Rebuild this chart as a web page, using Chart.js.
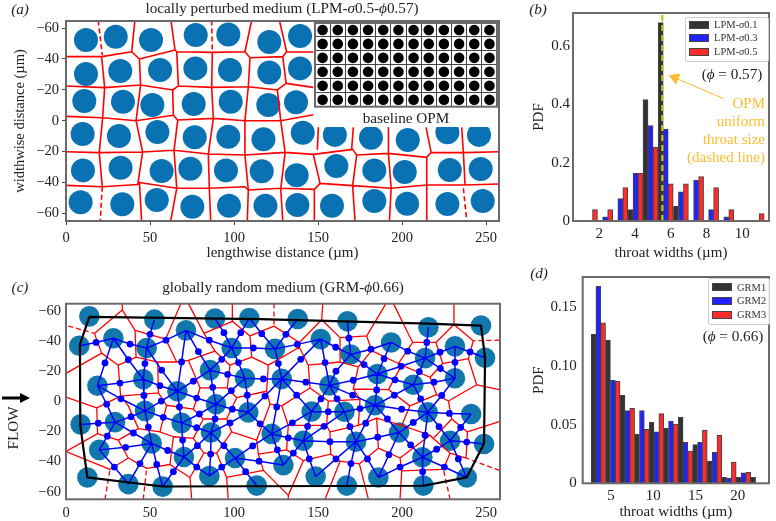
<!DOCTYPE html>
<html><head><meta charset="utf-8">
<script src="https://cdn.jsdelivr.net/npm/chart.js@4"></script>
<style>
html,body{margin:0;padding:0;background:#fff;}
#page{position:relative;width:776px;height:521px;overflow:hidden;font-family:"Liberation Serif",serif;color:#222;}
canvas{position:absolute;}
.t{position:absolute;white-space:nowrap;transform:translate(-50%,-50%);font-size:15.2px;line-height:1;}
.r{position:absolute;white-space:nowrap;transform:translate(-100%,-50%);font-size:15px;line-height:1;color:#fdbb2f;}
.lg{position:absolute;background:rgba(255,255,255,.9);border:1px solid #ccc;border-radius:2px;}
.sw{position:absolute;height:6px;border:1px solid #444;}
.lt{position:absolute;white-space:nowrap;transform:translateY(-50%);font-size:10.5px;line-height:1;color:#333;}
</style></head><body>
<div id="page">
<canvas id="ca" width="510" height="262" style="left:0;top:0"></canvas>
<canvas id="cin" width="184" height="105" style="left:314px;top:22px;background:#fff"></canvas>
<canvas id="cb" width="256" height="262" style="left:520px;top:0"></canvas>
<canvas id="cc" width="510" height="231" style="left:0;top:290px"></canvas>
<canvas id="cd" width="256" height="259" style="left:520px;top:262px"></canvas>

<div class="t" style="left:20px;top:9px;"><i>(a)</i></div>
<div class="t" style="left:282px;top:8px;">locally perturbed medium (LPM-<i>σ</i>0.5-<i>ϕ</i>0.57)</div>
<div class="t" style="left:406px;top:118px;">baseline OPM</div>
<div class="t" style="left:538px;top:9px;"><i>(b)</i></div>
<div class="t" style="left:732px;top:74px;">(<i>ϕ</i> = 0.57)</div>
<div class="r" style="left:765px;top:103px;">OPM</div>
<div class="r" style="left:765px;top:121px;">uniform</div>
<div class="r" style="left:765px;top:139px;">throat size</div>
<div class="r" style="left:765px;top:157px;">(dashed line)</div>
<div class="t" style="left:20px;top:287px;"><i>(c)</i></div>
<div class="t" style="left:283px;top:287px;">globally random medium (GRM-<i>ϕ</i>0.66)</div>
<div class="t" style="left:13px;top:428px;transform:translate(-50%,-50%) rotate(-90deg);">FLOW</div>
<svg style="position:absolute;left:0;top:388px" width="34" height="20"><polygon points="2,8.5 20,8.5 20,5 30,10 20,15 20,11.5 2,11.5" fill="#000"/></svg>
<div class="t" style="left:539px;top:273px;"><i>(d)</i></div>
<div class="t" style="left:733px;top:336px;">(<i>ϕ</i> = 0.66)</div>

<div class="lg" style="left:685px;top:17px;width:82px;height:43px;"></div>
<div class="sw" style="left:689px;top:21px;width:18px;background:#333"></div>
<div class="sw" style="left:689px;top:34px;width:18px;background:#2222ff"></div>
<div class="sw" style="left:689px;top:48px;width:18px;background:#ff2a2a"></div>
<div class="lt" style="left:714px;top:25px;">LPM-<i>σ</i>0.1</div>
<div class="lt" style="left:714px;top:38px;">LPM-<i>σ</i>0.3</div>
<div class="lt" style="left:714px;top:52px;">LPM-<i>σ</i>0.5</div>

<div class="lg" style="left:708px;top:278px;width:60px;height:45px;"></div>
<div class="sw" style="left:712px;top:283px;width:18px;background:#333"></div>
<div class="sw" style="left:712px;top:297px;width:18px;background:#2222ff"></div>
<div class="sw" style="left:712px;top:311px;width:18px;background:#ff2a2a"></div>
<div class="lt" style="left:737px;top:288px;">GRM1</div>
<div class="lt" style="left:737px;top:301px;">GRM2</div>
<div class="lt" style="left:737px;top:315px;">GRM3</div>
</div>
<script>
// ---------- panel (a): pore centres, µm ----------
const poreXA=[11.9,29.6,50.6,77.2,96.6,121,139.3, 11.9,32.3,56,77,97.6,121,139.3, 10.9,33.9,51.4,76,98,120.4,136.9,
 9.9,31.5,54.4,76.6,96.6,117.5,140.9,160,181.5,203.4,227,245.8,
 10.1,32.5,56.9,74,95.2,116.5,137.3,160.9,183.5,201.6,228.4,246.8,
 8.7,33.5,54,75.2,97,118.7,137.7,158.3,183.5,203,227,248];
const poreYA=[-52.3,-54.4,-52.3,-55.5,-55.9,-51,-54.9, -30.2,-32.2,-32.8,-33.9,-32.8,-31.2,-33.9, -12.7,-12.3,-10.2,-10.8,-12.3,-10.2,-11.9,
 8.6,9.9,7.3,10.8,10.4,12.1,7.8,9.2,11.1,12.5,7.5,9.2,
 32.2,30.5,32.6,31.1,32.2,32.8,35.4,29.4,32.2,33.3,32,31.3,
 52.9,54.2,51.4,55.7,55.1,55.1,54.7,55.1,52,53.8,54,52];
// ---------- panel (a): pore-wall polylines, µm ----------
const wallsA=[
 [[0,-41.5],[21.2,-41.5],[39.1,-44.7],[43.7,-40],[64.9,-45.8],[65.9,-44.7],[87.1,-44.3],[106.5,-44.7],[109.5,-40.8],[129,-41.5]],
 [[131.3,-44.7],[147.2,-44.5]],
 [[0,-22.5],[23,-21.4],[44.4,-23.1],[63.5,-19.9],[66.9,-22.5],[86.7,-21.6],[108.5,-22],[125.8,-19.9]],
 [[131,-24.2],[147.2,-21.6]],
 [[0,-2.8],[21.8,-1.9],[41.7,0],[63.9,-3.5],[66.5,-0.4],[87.7,-1.5],[106.5,0],[127.8,0],[147.2,-3.9]],
 [[0,20.1],[19.8,20.7],[45.6,20.3],[64.3,19.2],[84.7,21.6],[106.5,22.2],[130.4,20.5],[147.2,21.8],[170.6,18.6],[173,22.2],[191.9,21.2],[214.7,23.8],[217.3,20.5],[236.5,20.7],[257.9,20.1]],
 [[0,41.9],[21.6,42.8],[42.7,41.3],[43.7,40],[65.9,43.8],[85.3,43.8],[106.5,42.8],[108.5,44.9],[127.8,43.8],[147.8,44.5],[151.2,40.6],[170.6,42.1],[193.5,43.8],[214.7,41.7],[237.5,41.7],[257.9,41]],
 [[21.2,-41.5],[23,-21.4],[21.8,-1.9],[19.8,20.7],[21.6,42.8]],
 [[41,-65],[39.1,-44.7]],
 [[43.7,-40],[44.4,-23.1],[41.7,0],[45.6,20.3],[42.7,41.3]],
 [[43.7,40],[45,65]],
 [[62.5,-65],[64.9,-45.8]],
 [[65.9,-44.7],[66.9,-22.5],[63.5,-19.9],[63.9,-3.5],[66.5,-0.4],[64.3,19.2],[65.9,43.8],[62.3,65]],
 [[87.1,-44.3],[86.7,-21.6],[87.7,-1.5],[84.7,21.6],[85.3,43.8],[86.1,65]],
 [[110.5,-65],[106.5,-44.7],[109.5,-40.8],[108.5,-22],[106.5,0],[106.5,22.2],[108.5,44.9],[107.9,65]],
 [[127,-65],[131.3,-44.7],[129,-41.5],[131,-24.2],[125.8,-19.9],[127.8,0],[130.4,20.5],[127.8,44.3],[129,65]],
 [[150.2,4.3],[149.6,18.8]],
 [[147.2,21.8],[151.2,40.6],[147.8,44.5],[147.8,65]],
 [[171,4.3],[170,18.6]],
 [[173,22.2],[170.6,42.1],[172,65]],
 [[191.9,4.3],[191.9,21.2],[193.5,43.8],[192.5,65]],
 [[214.3,4.3],[217.3,20.5]],
 [[214.7,23.8],[214.7,41.7],[214.7,65]],
 [[235.5,4.3],[236.5,20.7],[237.5,41.7]]
];
const wallsDashedA=[
 [[19.2,-65],[21.6,-42.5]],
 [[21.6,42.8],[20.4,65]],
 [[86.7,-65],[87.1,-44.3]],
 [[236.5,43.8],[238.5,65]]
];
// ---------- inset: baseline OPM ----------
const insetX=[10,30,50,70,90,110,130,150,170,190,210,230];
const insetY=[-50,-30,-10,10,30,50];
// ---------- panel (b) ----------
const binsB=[1.48,2.33,3.18,4.03,4.87,5.72,6.57,7.42,8.26,9.11,9.96,10.81];
const lpm01=[0,0,0,0.039,0.416,0.679,0.05,0,0,0,0,0];
const lpm03=[0,0.014,0.077,0.163,0.327,0.315,0.10,0.139,0.039,0.014,0,0];
const lpm05=[0.039,0.039,0.114,0.163,0.253,0.127,0.127,0.152,0.114,0.039,0,0.025];
const opmThroatX=[5.53,5.53];
const opmThroatY=[0,0.72];
const arrowX=[8.95,6.24];
const arrowY=[0.419,0.49];
const ticksB=[0,0.2,0.4,0.6];
// ---------- panel (c): pore centres ----------
const poreXC=[13.9,7.9,28.2,52.6,48,71.4,88.7,109.1,98.6,85.7,106.5,46,18.7,66.3,89.3,47,108.5,29.2,8.7,68.8,86.3,51,19.8,70.2,100.6,12.7,37.1,57.5,85.3,113.5,
 137.9,167.5,215.7,247,151.6,124.4,169.4,193.5,213.7,231.5,249.4,128.4,156.8,185.3,206.7,231.5,146.2,165.7,183.9,215.3,241.1,122.4,141.3,172.6,198.2,228.6,248.8,129.4,148.6,167.1,185.9,212.1,212.7,238.5];
const poreYC=[-56.4,-36.9,-41.9,-54.2,-35.4,-47.1,-54.9,-55.3,-35.4,-20.7,-15.3,-14.7,-10.4,-6.7,1.9,6.3,7.3,13.8,15.3,14.3,20.7,27.9,32.2,36.9,37.6,50.5,54.9,56.6,49.5,55.9,
 -54.6,-53.1,-49.2,-50.3,-41.3,-34.8,-31.1,-39.1,-28.7,-36.5,-28.9,-14.9,-10.6,-18.1,-11,-15.3,6.7,6.9,2.6,7.3,8.4,21.6,26.1,26.8,20.7,26.1,28.3,42.3,49.9,55.9,50.5,37.1,55.9,50.5];
// ---------- panel (c): throats as [poreA, poreB, x, y] ----------
const throatsC=[
[1,2,17.9,-39.1],[2,4,38.1,-38],[3,4,50,-44.5],[4,5,59.5,-40.6],[2,12,23.2,-25.5],[2,11,37.1,-27.6],[4,11,47,-25.1],[5,13,68.8,-26.1],[4,13,56.9,-20.7],
[5,8,85.3,-40.6],[5,9,78.8,-33],[6,8,94,-45.6],[7,8,104,-45.6],[8,35,111.5,-35.4],[7,35,116.5,-44.9],[8,9,92.7,-27.9],[8,10,102.6,-25.7],[9,10,96.2,-17.9],[10,41,117.5,-14.9],
[12,11,32.1,-12.1],[11,13,55.9,-10.4],[13,9,75.8,-13.4],[9,14,87.3,-9.3],[10,14,98.4,-7.1],[11,15,46.4,-3.9],[12,15,32.7,-1.7],[12,17,24.2,1.9],[13,15,56.7,-0.2],[13,14,77.8,-2.2],[13,19,67.5,3.7],
[10,16,107.9,-4.1],[16,41,118.4,-3.5],[14,16,99,5.2],[15,17,38.7,10.2],[17,18,19.2,14.5],[15,19,57.9,10.6],[14,19,79.4,8.4],[14,20,88.7,11.7],[16,20,97.6,14.3],[16,51,115.5,14.9],
[17,21,40.1,21],[15,21,49,17.1],[19,20,77.8,17.5],[17,22,24.6,23.1],[19,23,69.4,25.7],[21,22,35.5,30.5],[21,23,60.5,32.6],[20,23,78.2,29.4],[20,24,94,29.4],[24,51,111.1,29.6],[20,28,86.1,35],
[24,57,114.9,39.7],[22,26,28.8,43.6],[21,26,44,41.3],[21,27,54,41.9],[23,27,63.9,46.7],[23,28,77.8,43.6],[24,28,92.7,43.6],[24,29,106.9,46.7],
[30,35,130.9,-44.5],[35,34,137.7,-37.8],[34,36,160.5,-35.9],[31,36,168.4,-41.9],[36,37,181.5,-34.6],[37,38,203.4,-33.3],[32,38,214.7,-39.1],[38,39,222.6,-32.6],[39,40,240.5,-32.8],[39,45,231.5,-25.9],
[35,41,126.4,-25.1],[34,41,139.7,-27.9],[34,42,154.2,-25.7],[36,43,177.4,-24.4],[37,43,189.3,-28.3],[38,43,199.4,-23.3],[38,44,210.3,-19.7],[38,45,222.8,-21.8],[44,45,219,-12.7],[43,44,195.8,-14.3],[42,43,171,-14],[41,42,142.8,-12.7],
[36,42,160.7,-20],[41,46,137.3,-4.1],[42,46,151.8,-1.7],[42,47,161.3,-1.7],[42,48,170.6,-4.1],[43,48,184.9,-7.6],[44,48,195.4,-4.1],[45,49,223.6,-3.9],[44,49,211.1,-1.7],[41,51,125.4,3.7],[47,48,175,4.8],[46,47,156.1,6.9],[48,49,199.8,5.2],[49,50,228.2,8],
[46,51,134.7,14.3],[46,52,143.8,16.6],[47,52,153.6,16.6],[47,53,169,16.8],[48,53,178.4,14.5],[48,54,191.3,11.7],[49,54,206.7,14],[49,55,222,16.8],[50,55,234.9,17.3],[49,61,213.7,22.5],
[51,52,132.3,24.2],[52,53,157.1,26.8],[53,54,185.5,23.8],[54,61,205.1,28.9],[55,61,220.6,31.8],[55,56,238.5,27],[51,57,125.8,32.2],[52,57,135.3,34.3],[52,58,144.8,38.2],[53,58,160.7,38.2],[53,60,179.4,38.2],[54,60,192.2,35.4],[55,63,233.5,38.2],[53,59,169.6,41.3],[61,63,225.2,43.6],[60,61,198.8,43.6],[61,62,212.3,46.7]
];
const hullC=[[13.9,-56],[115.5,-54.6],[215.7,-51.6],[247,-50.3],[249.4,-28.9],[248.8,27.9],[238.5,50.5],[212.7,56],[57.5,56.5],[12.7,50.5],[8.5,16],[8.3,-37.8],[13.9,-56]];
const wallsC=[
[[16.9,-45.1],[33.5,-60.7],[33.5,-65]],
[[33.5,-60.7],[41.1,-47.1],[59.3,-41.3],[68.4,-65]],
[[16.9,-45.1],[21.2,-32],[0,-18.6]],
[[21.2,-32],[31.1,-24],[32.5,-3.5],[18.3,4.3],[0,-2.8]],
[[18.3,4.3],[18.8,21.4],[0,33.3],[26.2,45.1],[37.1,37.6],[31.1,25.7],[18.8,21.4]],
[[31.1,-24],[41.7,-29.4],[41.1,-47.1]],
[[41.7,-29.4],[54.6,-26.1],[65.9,-26.1],[59.3,-41.3]],
[[54.6,-26.1],[55,-5.6],[32.5,-3.5]],
[[55,-5.6],[59.9,2.6],[75.8,5.2],[79.8,-8.9],[72.8,-27.2],[65.9,-26.1]],
[[32.5,-3.5],[37.1,3],[43.1,18.1],[31.1,25.7]],
[[59.9,2.6],[55.9,20.3],[43.1,18.1]],
[[55.9,20.3],[63.9,23.5],[75.8,24.6],[81.7,11.7],[75.8,5.2]],
[[81.7,11.7],[95.6,11.7],[98.6,20.3],[89.7,34.3],[82.1,34.3],[75.8,24.6]],
[[63.9,23.5],[61.9,41.9],[73.8,50.5],[82.1,34.3]],
[[61.9,41.9],[48,44.5],[37.1,37.6]],
[[73.8,50.5],[74.8,65]],
[[89.7,34.3],[95.6,50.5],[96.6,65]],
[[95.6,50.5],[117.5,45.8],[114.5,35],[113.5,25.7],[98.6,20.3]],
[[95.6,11.7],[101.6,-2.4],[96,-8.9],[79.8,-8.9]],
[[101.6,-2.4],[119.4,-6.7],[120.4,-24],[110.5,-29.4],[97.6,-24],[96,-8.9]],
[[97.6,-24],[88.7,-33.3],[72.8,-27.2]],
[[88.7,-33.3],[82.1,-45.1],[72.8,-65]],
[[82.1,-45.1],[99,-53.1],[99,-65]],
[[99,-53.1],[109.5,-43.4],[110.5,-29.4]],
[[109.5,-43.4],[123.8,-49.9],[138.9,-39.1],[138.9,-35.9],[120.4,-24]],
[[138.9,-39.1],[152.2,-54.2],[152.8,-65]],
[[152.2,-54.2],[163.1,-42.3],[179,-43.4],[190.5,-65]],
[[179,-43.4],[181.9,-33.7],[174,-22.9],[171,-8.2],[191.9,-7.8],[199.8,-24]],
[[174,-22.9],[163.1,-26.1],[163.1,-42.3]],
[[163.1,-26.1],[144.2,-24],[138.9,-35.9]],
[[181.9,-33.7],[197.8,-25.1],[199.8,-24],[216.7,-16]],
[[197.8,-25.1],[206.3,-39.1],[194.8,-65]],
[[206.3,-39.1],[220.2,-39.1],[230.9,-51],[230.9,-65]],
[[230.9,-51],[242.4,-40.2],[239.5,-28.3],[224.2,-25.1],[220.2,-39.1]],
[[224.2,-25.1],[216.7,-16],[220.6,-4.5],[227.6,-0.2],[244.4,-11],[239.5,-28.3]],
[[244.4,-11],[257.9,-7.8]],
[[227.6,-0.2],[229.6,11.7],[238.9,20.3],[238.1,37.6],[228.6,34.3],[224.6,45.1],[199.8,46.2]],
[[238.9,20.3],[257.9,13.4]],
[[229.6,11.7],[218.6,24.6],[228.6,34.3]],
[[220.6,-4.5],[204.7,3],[191.9,-7.8]],
[[204.7,3],[199.8,16],[216.7,22.5],[218.6,24.6]],
[[199.8,16],[184.9,11.2],[174,16],[175,-1.3],[171,-8.2]],
[[175,-1.3],[156.1,-0.2],[145.2,-8.9],[144.2,-24]],
[[145.2,-8.9],[128.4,3],[121.4,1.9],[119.4,-6.7]],
[[121.4,1.9],[113.5,25.7]],
[[128.4,3],[132.3,16],[155.1,16],[156.1,-0.2]],
[[155.1,16],[157.1,20.3],[174,16]],
[[132.3,16],[131.3,32.2],[114.5,35]],
[[131.3,32.2],[141.3,39.3],[132.3,62.4],[132.3,65]],
[[132.3,62.4],[117.5,45.8]],
[[141.3,39.3],[157.5,35],[157.1,20.3]],
[[157.5,35],[163.1,39.7],[154.2,65]],
[[163.1,39.7],[174.6,41.5],[180,65]],
[[174.6,41.5],[185.9,31.1],[184.9,11.2]],
[[185.9,31.1],[198.8,37.6],[199.8,46.2],[198.8,65]],
[[198.8,37.6],[216.7,22.5]]
];
const wallsDashedC=[
[[1.4,-50],[16.9,-45.1]],[[123.8,-65],[123.8,-49.9]],[[23.2,65],[26.2,45.1]],[[46,65],[48,44.5]],
[[257.9,-40.6],[242.4,-40.2]],[[257.9,45.8],[238.1,37.6]],[[228.6,65],[224.6,45.1]]
];
// ---------- panel (d) ----------
const binsD=[3.49,5.21,6.93,8.65,10.37,12.09,13.81,15.53,17.25,18.96,20.68,22.40];
const grm1=[0.127,0.122,0.075,0.042,0.052,0.047,0.0565,0.033,0.019,0.005,0.005,0.005];
const grm2=[0.168,0.088,0.062,0.062,0.044,0.053,0.035,0.035,0.0265,0.0045,0.009,0];
const grm3=[0.137,0.087,0.064,0.046,0.0595,0.0505,0.0275,0.0455,0.041,0.018,0.0093,0];

// ---------- helpers ----------
const FONT='"Liberation Serif", serif';
const INK='#222', FRAME='#6a6a6a';
Chart.defaults.font.family=FONT;
Chart.defaults.color=INK;
const frame={id:'frame',afterDatasetsDraw(c){const a=c.chartArea,x=c.ctx;x.save();x.lineWidth=2;x.strokeStyle=FRAME;
  x.strokeRect(a.left,a.top,a.right-a.left,a.bottom-a.top);x.restore();}};
const flat=ps=>ps.flatMap(p=>[...p.map(([x,y])=>({x,y})),{x:null,y:null}]);
const pts=(xs,ys)=>xs.map((x,i)=>({x,y:ys[i]}));
const net=throatsC.flatMap(([a,b,x,y])=>[{x:poreXC[a],y:poreYC[a]},{x,y},{x:poreXC[b],y:poreYC[b]},{x:null,y:null}]);
const dots=throatsC.map(t=>({x:t[2],y:t[3]}));
const lineSet=(data,color,width,order,dash)=>({type:'scatter',data,showLine:true,borderColor:color,borderWidth:width,pointRadius:0,order,borderDash:dash||[],spanGaps:false,borderJoinStyle:'round'});
const dotSet=(data,color,r,order)=>({type:'scatter',data,showLine:false,backgroundColor:color,borderWidth:0,pointRadius:r,pointHoverRadius:r,order});
const absTick=v=>v===0?'0':'\u2212'+Math.abs(v);

function baseOpts(cfg){
  const mkGrid=cfg.ticks?{display:true,drawOnChartArea:false,drawTicks:true,tickLength:4,tickColor:'#444',tickWidth:1}:{display:false,drawTicks:false};
  return {responsive:false,animation:false,devicePixelRatio:1,
    layout:{autoPadding:false,padding:{left:0,top:cfg.top,right:cfg.right,bottom:0}},
    plugins:{legend:{display:false},tooltip:{enabled:false},title:{display:false}},
    scales:{
      x:{type:'linear',offset:false,min:cfg.xmin,max:cfg.xmax,grid:{...mkGrid,offset:false},border:{display:false},
        ticks:{stepSize:cfg.xstep,includeBounds:false,autoSkip:false,maxRotation:0,font:{size:cfg.fs},padding:cfg.xpad,color:INK},
        title:{display:!!cfg.xtitle,text:cfg.xtitle,font:{size:cfg.xfs||cfg.fs},padding:{top:cfg.xtp||0,bottom:0},color:INK},
        afterFit:s=>{s.height=cfg.bottom;}},
      y:{type:'linear',min:cfg.ymin,max:cfg.ymax,reverse:!!cfg.rev,grid:mkGrid,border:{display:false},
        afterBuildTicks:cfg.yticks?(s=>{s.ticks=cfg.yticks.map(value=>({value}));}):undefined,
        ticks:{stepSize:cfg.ystep,includeBounds:false,autoSkip:false,font:{size:cfg.fs},padding:cfg.ypad,color:INK,callback:cfg.ycb},
        title:{display:!!cfg.ytitle,text:cfg.ytitle,font:{size:cfg.fs},padding:{top:cfg.ytp||0,bottom:0},color:INK},
        afterFit:s=>{s.width=cfg.left;}}
    }};
}

// panel (a)
new Chart('ca',{type:'scatter',plugins:[frame],data:{datasets:[
  dotSet(pts(poreXA,poreYA),'#0a72b2',12,3),
  lineSet(flat(wallsA),'#ff0000',1.6,2),
  lineSet(flat(wallsDashedA),'#ff0000',1.6,2,[5,3])
]},options:baseOpts({top:21,right:11,left:66,bottom:41,xmin:0,xmax:257.7,xstep:50,ymin:-64.6,ymax:65,ystep:20,rev:true,ycb:absTick,
  ticks:true,fs:14.5,xfs:15,xpad:4,ypad:3,xtitle:'lengthwise distance (µm)',ytitle:'widthwise distance (µm)',ytp:11})});

// inset
new Chart('cin',{type:'scatter',plugins:[frame],data:{datasets:[
  dotSet(insetY.flatMap(y=>insetX.map(x=>({x,y}))),'#000',5.3,1)
]},options:(()=>{const o=baseOpts({top:1,right:1,left:1,bottom:0.01,xmin:0,xmax:240,xstep:20,ymin:-60,ymax:60,ystep:20,rev:true,ticks:false,fs:1,xpad:0,ypad:0});
  o.layout.padding.bottom=20.3;
  o.scales.x.grid={display:true,drawTicks:false,color:'#444',lineWidth:1};
  o.scales.y.grid={display:true,drawTicks:false,color:'#444',lineWidth:1};
  o.scales.x.ticks.display=false;o.scales.y.ticks.display=false;return o;})()});

const barSet=(bins,vals,color)=>({type:'bar',data:pts(bins,vals),backgroundColor:color,borderColor:'#444',borderWidth:1,barPercentage:1,categoryPercentage:1,order:3});

// panel (b)
new Chart('cb',{type:'bar',plugins:[frame],data:{datasets:[
  barSet(binsB,lpm01,'#333333'),barSet(binsB,lpm03,'#2222ff'),barSet(binsB,lpm05,'#ff2a2a'),
  {type:'line',data:pts(opmThroatX,opmThroatY),borderColor:'#c4c41e',borderWidth:2.2,borderDash:[6,4],pointRadius:0,order:1},
  {type:'line',data:pts(arrowX,arrowY),borderColor:'#fdbb2f',borderWidth:1,pointStyle:'triangle',pointRadius:[0,6],pointRotation:[0,-67],pointBackgroundColor:'#fdbb2f',pointBorderColor:'#fdbb2f',order:0}
]},options:baseOpts({top:13,right:7,left:53,bottom:41,xmin:0.53,xmax:11.5,xstep:2,ymin:0,ymax:0.712,yticks:ticksB,ycb:v=>v===0?'0':v.toFixed(1),
  fs:15,xpad:4,ypad:3,xtitle:'throat widths (µm)',ytitle:'PDF',ytp:10})});

// panel (c)
new Chart('cc',{type:'scatter',plugins:[frame],data:{datasets:[
  dotSet(pts(poreXC,poreYC),'#1277ab',10.3,5),
  lineSet(flat(wallsC),'#ff0000',1.3,4),
  lineSet(flat(wallsDashedC),'#ff0000',1.3,4,[5,3]),
  lineSet(net,'#0000ff',1.5,3),
  dotSet(dots,'#0000ff',3.4,2),
  lineSet(hullC.map(([x,y])=>({x,y})),'#000',2.2,1)
]},options:baseOpts({top:9.3,right:10,left:66,bottom:21.7,xmin:0,xmax:258.3,xstep:50,ymin:-64.8,ymax:65,ystep:20,rev:true,ycb:absTick,
  fs:14.5,xpad:5,ypad:5})});

// panel (d)
new Chart('cd',{type:'bar',plugins:[frame],data:{datasets:[
  barSet(binsD,grm1,'#333333'),barSet(binsD,grm2,'#2222ff'),barSet(binsD,grm3,'#ff2a2a')
]},options:baseOpts({top:13.3,right:7,left:62.7,bottom:37.7,xmin:1.64,xmax:23.7,xstep:5,ymin:0,ymax:0.176,ystep:0.05,ycb:v=>v===0?'0':v.toFixed(2),
  fs:15,xpad:4,ypad:6,xtitle:'throat widths (µm)',ytitle:'PDF',ytp:10})});
</script>
</body></html>
